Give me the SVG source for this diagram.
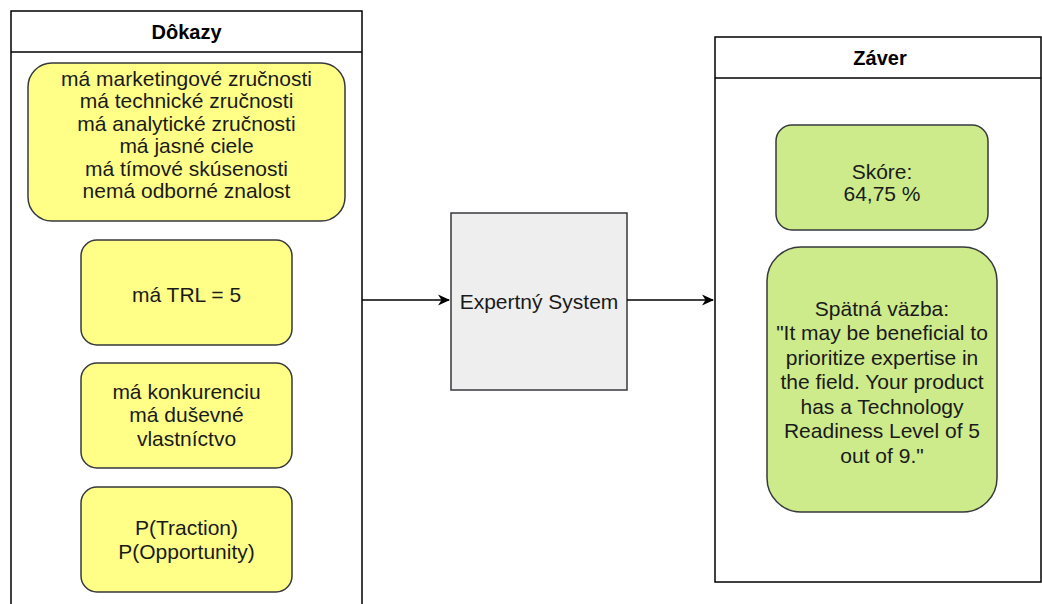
<svg xmlns="http://www.w3.org/2000/svg" width="1042" height="604" viewBox="0 0 1042 604">
<style>
  text { font-family: "Liberation Sans", Arial, sans-serif; font-size: 21px; fill: #1a1a1a; text-anchor: middle; }
  .hdr { font-weight: bold; font-size: 20px; fill: #000; }
  .cont { fill: #fff; stroke: #000; stroke-width: 1.5; }
  .yel { fill: #ffff88; stroke: #36393d; stroke-width: 1.5; }
  .grn { fill: #cdeb8b; stroke: #36393d; stroke-width: 1.5; }
  .sys { fill: #eeeeee; stroke: #36393d; stroke-width: 1.5; }
  .edge { fill: none; stroke: #000; stroke-width: 1.5; }
</style>
<defs>
  <marker id="arrow" viewBox="0 0 12 12" refX="11" refY="6" markerWidth="12" markerHeight="12" markerUnits="userSpaceOnUse" orient="auto">
    <path d="M0,0.5 L12,6 L0,11.5 L3.5,6 Z" fill="#000"/>
  </marker>
</defs>
<rect width="1042" height="604" fill="#fff"/>

<g id="dokazy">
  <path class="cont" d="M11,610 L11,11 L362,11 L362,610"/>
  <line x1="11" y1="52" x2="362" y2="52" stroke="#000" stroke-width="1.5"/>
  <text class="hdr" x="186.5" y="38.5">Dôkazy</text>
</g>

<g id="zaver">
  <rect class="cont" x="715" y="37" width="326" height="545"/>
  <line x1="715" y1="78" x2="1041" y2="78" stroke="#000" stroke-width="1.5"/>
  <text class="hdr" x="880" y="64.5">Záver</text>
</g>

<g id="zrucnosti">
  <rect class="yel" x="28" y="63" width="317" height="158" rx="24" ry="24"/>
  <text x="186.5" y="85.5">má marketingové zručnosti</text>
  <text x="186.5" y="108">má technické zručnosti</text>
  <text x="186.5" y="130.5">má analytické zručnosti</text>
  <text x="186.5" y="153">má jasné ciele</text>
  <text x="186.5" y="175.5">má tímové skúsenosti</text>
  <text x="186.5" y="198">nemá odborné znalost</text>
</g>

<g id="trl">
  <rect class="yel" x="81" y="240" width="211" height="105" rx="16" ry="16"/>
  <text x="186.5" y="301.5">má TRL = 5</text>
</g>

<g id="konkurencia">
  <rect class="yel" x="81" y="363" width="211" height="105" rx="16" ry="16"/>
  <text x="186.5" y="398.5">má konkurenciu</text>
  <text x="186.5" y="422">má duševné</text>
  <text x="186.5" y="445.5">vlastníctvo</text>
</g>

<g id="traction">
  <rect class="yel" x="81" y="487" width="211" height="105" rx="16" ry="16"/>
  <text x="186.5" y="535">P(Traction)</text>
  <text x="186.5" y="558.5">P(Opportunity)</text>
</g>

<g id="expertny-system">
  <rect class="sys" x="451" y="213" width="176" height="177"/>
  <text x="539" y="309">Expertný System</text>
</g>

<g id="skore">
  <rect class="grn" x="776" y="125" width="212" height="105" rx="16" ry="16"/>
  <text x="882" y="178.5">Skóre:</text>
  <text x="882" y="201">64,75 %</text>
</g>

<g id="spatna-vazba">
  <rect class="grn" x="767" y="247" width="230" height="265" rx="34" ry="34"/>
  <text x="882" y="315.5">Spätná väzba:</text>
  <text x="882" y="340">"It may be beneficial to</text>
  <text x="882" y="364.5">prioritize expertise in</text>
  <text x="882" y="389">the field. Your product</text>
  <text x="882" y="413.5">has a Technology</text>
  <text x="882" y="438">Readiness Level of 5</text>
  <text x="882" y="462.5">out of 9."</text>
</g>

<g id="connectors">
  <line class="edge" x1="362" y1="300" x2="449" y2="300" marker-end="url(#arrow)"/>
  <line class="edge" x1="627" y1="300" x2="713" y2="300" marker-end="url(#arrow)"/>
</g>
</svg>
